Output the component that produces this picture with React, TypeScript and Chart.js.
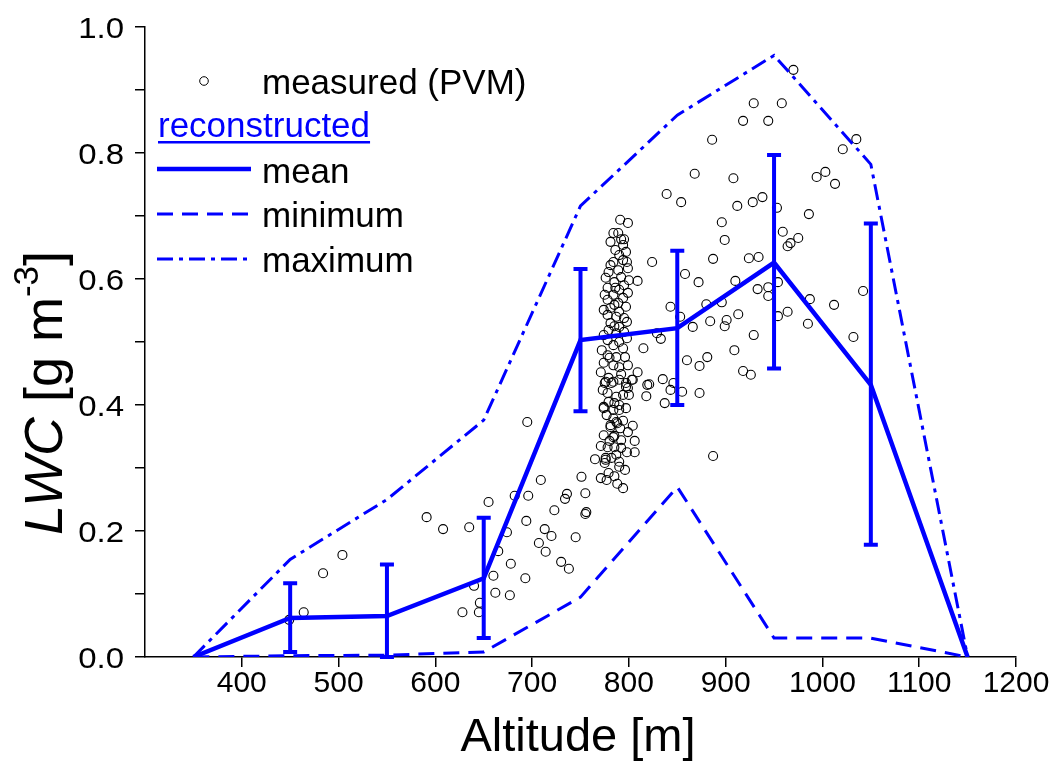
import React, { useEffect, useRef } from "react";
import { Chart, registerables } from "chart.js";

Chart.register(...registerables);

// Reconstructed profile (altitude in m, LWC in g m^-3)
const altitudes = [350, 450, 550, 650, 750, 850, 950, 1050, 1150];
const meanLWC = [0, 0.062, 0.065, 0.125, 0.503, 0.522, 0.626, 0.432, 0];
const minLWC = [0, 0.002, 0.003, 0.008, 0.095, 0.27, 0.03, 0.03, 0];
const maxLWC = [0, 0.155, 0.25, 0.376, 0.716, 0.86, 0.955, 0.782, 0];

// Error bars on the mean
const errAlt = [450, 550, 650, 750, 850, 950, 1050];
const errLow = [0.008, 0.0, 0.03, 0.39, 0.4, 0.458, 0.178];
const errHigh = [0.117, 0.147, 0.221, 0.616, 0.645, 0.797, 0.688];

// Measured (PVM) points
const measuredAlt = [
  791, 799, 784, 789, 792, 795, 781, 794, 786, 797, 790, 784, 794, 781, 789, 799, 779, 792, 785, 795,
  778, 790, 784, 794, 778, 789, 797, 781, 790, 778, 787, 795, 781, 790, 779, 787, 795, 778, 790, 784,
  778, 787, 796, 774, 784, 790, 776, 784, 790, 797, 778, 787, 794, 785, 774, 784, 790, 784, 794, 787,
  781, 774, 784, 792, 778, 785, 792, 787, 776, 790, 775, 790, 779, 777, 794,
  775, 782, 797, 803, 799, 774, 790, 781, 788, 785, 776, 765,
  798, 776, 800, 786, 799, 775, 785, 774, 798, 785, 774, 798, 794, 772, 780, 799, 771, 792, 779, 773,
  800, 779, 797, 777, 791, 799, 780, 771, 798, 782, 796, 785, 771, 788,
  824, 809, 843, 833, 829, 815, 809, 835, 821, 818, 837, 843, 846, 804, 806, 806, 860, 873, 881, 909,
  929, 855, 873, 918, 926, 887, 886, 868, 908, 839, 854, 912, 928, 938, 953, 896, 959, 964, 899, 887,
  924, 934, 858, 872, 910, 954, 933, 944, 944, 853, 880, 896, 884, 901, 899, 913, 866, 954, 964, 929,
  958, 918, 944, 1035, 1021, 994, 1003, 1013, 967, 975, 986, 987, 1012, 1042, 985, 1032, 970, 804, 819,
  591, 608, 635, 655, 504, 484, 464, 449, 682, 696, 694, 674, 665, 678, 660, 640, 693, 662, 677, 646,
  628, 645, 707, 695, 709, 751, 736, 734, 755, 723, 756, 755, 713, 720, 745, 714, 730, 738,
];
const measuredLWC = [
  0.694, 0.689, 0.673, 0.673, 0.663, 0.663, 0.659, 0.654, 0.646, 0.643, 0.638, 0.627, 0.63, 0.622, 0.614, 0.617, 0.611, 0.603, 0.595, 0.59,
  0.586, 0.583, 0.575, 0.57, 0.567, 0.562, 0.556, 0.554, 0.548, 0.543, 0.54, 0.538, 0.53, 0.524, 0.519, 0.514, 0.516, 0.503, 0.5, 0.495,
  0.479, 0.476, 0.476, 0.467, 0.463, 0.46, 0.437, 0.437, 0.44, 0.429, 0.419, 0.413, 0.416, 0.403, 0.395, 0.392, 0.392, 0.379, 0.375, 0.373,
  0.365, 0.352, 0.349, 0.344, 0.333, 0.333, 0.332, 0.321, 0.316, 0.31, 0.308, 0.302, 0.292, 0.281, 0.268,
  0.435, 0.435, 0.435, 0.44, 0.427, 0.397, 0.4, 0.368, 0.371, 0.351, 0.313, 0.314,
  0.627, 0.602, 0.598, 0.586, 0.578, 0.575, 0.559, 0.551, 0.532, 0.525, 0.511, 0.506, 0.49, 0.487, 0.475, 0.463, 0.452, 0.449, 0.443, 0.424,
  0.416, 0.405, 0.395, 0.384, 0.363, 0.357, 0.343, 0.335, 0.325, 0.316, 0.297, 0.287, 0.284, 0.275,
  0.627, 0.597, 0.556, 0.505, 0.514, 0.49, 0.452, 0.441, 0.433, 0.414, 0.403, 0.424, 0.435, 0.367, 0.343, 0.325, 0.471, 0.462, 0.476, 0.487,
  0.511, 0.421, 0.419, 0.454, 0.448, 0.319, 0.821, 0.767, 0.76, 0.735, 0.722, 0.716, 0.722, 0.73, 0.713, 0.69, 0.675, 0.652, 0.662, 0.632,
  0.633, 0.635, 0.608, 0.595, 0.597, 0.595, 0.584, 0.587, 0.573, 0.54, 0.56, 0.563, 0.533, 0.535, 0.525, 0.544, 0.524, 0.541, 0.548, 0.879,
  0.879, 0.851, 0.851, 0.822, 0.806, 0.762, 0.77, 0.751, 0.657, 0.665, 0.703, 0.568, 0.559, 0.581, 0.529, 0.508, 0.932, 0.44, 0.432,
  0.222, 0.203, 0.206, 0.246, 0.162, 0.133, 0.071, 0.059, 0.256, 0.256, 0.216, 0.198, 0.168, 0.148, 0.129, 0.113, 0.125, 0.102, 0.098, 0.086,
  0.071, 0.071, 0.181, 0.373, 0.281, 0.286, 0.259, 0.251, 0.26, 0.233, 0.23, 0.227, 0.203, 0.192, 0.19, 0.167, 0.151, 0.14,
];

// Axis ticks
const xTickValues = [400, 500, 600, 700, 800, 900, 1000, 1100, 1200];
const yTickValues = [0, 0.2, 0.4, 0.6, 0.8, 1.0];

const FONT = '"Liberation Sans", Arial, Helvetica, sans-serif';
const BLUE = "#0000FF";

const zip = (xs: number[], ys: number[]) => xs.map((x, i) => ({ x, y: ys[i] }));

const errorBarPlugin = {
  id: "errorBars",
  afterDatasetsDraw(chart: any) {
    const { ctx, scales } = chart;
    const xs = scales.x;
    const ys = scales.y;
    ctx.save();
    ctx.strokeStyle = BLUE;
    ctx.lineWidth = 4;
    ctx.lineCap = "butt";
    errAlt.forEach((a, i) => {
      const x = xs.getPixelForValue(a);
      const yl = ys.getPixelForValue(errLow[i]);
      const yh = ys.getPixelForValue(errHigh[i]);
      ctx.beginPath();
      ctx.moveTo(x, yl);
      ctx.lineTo(x, yh);
      ctx.moveTo(x - 7, yl);
      ctx.lineTo(x + 7, yl);
      ctx.moveTo(x - 7, yh);
      ctx.lineTo(x + 7, yh);
      ctx.stroke();
    });
    ctx.restore();
  },
};

const textPlugin = {
  id: "texts",
  afterDraw(chart: any) {
    const { ctx, scales } = chart;
    const xs = scales.x;
    const ys = scales.y;
    ctx.save();
    ctx.fillStyle = "#000";
    // x tick labels
    ctx.font = `30px ${FONT}`;
    ctx.textAlign = "center";
    ctx.textBaseline = "alphabetic";
    xTickValues.forEach((v) => {
      ctx.fillText(String(v), xs.getPixelForValue(v), 692);
    });
    // y tick labels
    ctx.textAlign = "right";
    yTickValues.forEach((v) => {
      const y = ys.getPixelForValue(v);
      ctx.save();
      ctx.translate(124, y + 11);
      ctx.scale(1.1, 1);
      ctx.fillText(v.toFixed(1), 0, 0);
      ctx.restore();
    });
    // x title
    ctx.font = `47px ${FONT}`;
    ctx.textAlign = "center";
    ctx.fillText("Altitude [m]", 578, 751);
    // y title
    ctx.save();
    ctx.translate(62, 393);
    ctx.rotate(-Math.PI / 2);
    ctx.textAlign = "left";
    const segs = [
      { t: "LWC", f: `italic 54px ${FONT}`, dy: 0 },
      { t: " [g m", f: `54px ${FONT}`, dy: 0 },
      { t: "-3", f: `35px ${FONT}`, dy: -24 },
      { t: "]", f: `54px ${FONT}`, dy: 0 },
    ];
    let total = 0;
    segs.forEach((s) => {
      ctx.font = s.f;
      total += ctx.measureText(s.t).width;
    });
    let cx = -total / 2;
    segs.forEach((s) => {
      ctx.font = s.f;
      ctx.fillText(s.t, cx, s.dy);
      cx += ctx.measureText(s.t).width;
    });
    ctx.restore();

    // legend
    ctx.font = `35px ${FONT}`;
    ctx.textAlign = "left";
    ctx.strokeStyle = "#000";
    ctx.lineWidth = 1;
    ctx.beginPath();
    ctx.arc(204, 81, 4.3, 0, Math.PI * 2);
    ctx.stroke();
    ctx.fillText("measured (PVM)", 262, 94);

    ctx.fillStyle = BLUE;
    ctx.fillText("reconstructed", 158, 137);
    const w = ctx.measureText("reconstructed").width;
    ctx.fillRect(158, 141, w, 2.5);

    ctx.strokeStyle = BLUE;
    ctx.lineWidth = 4.5;
    ctx.beginPath();
    ctx.moveTo(157, 169);
    ctx.lineTo(251, 169);
    ctx.stroke();

    ctx.lineWidth = 3;
    ctx.setLineDash([16, 9]);
    ctx.beginPath();
    ctx.moveTo(157, 214);
    ctx.lineTo(251, 214);
    ctx.stroke();

    ctx.setLineDash([16, 6, 4, 6]);
    ctx.beginPath();
    ctx.moveTo(157, 259);
    ctx.lineTo(251, 259);
    ctx.stroke();
    ctx.setLineDash([]);

    ctx.fillStyle = "#000";
    ctx.fillText("mean", 262, 183);
    ctx.fillText("minimum", 262, 227);
    ctx.fillText("maximum", 262, 272);
    ctx.restore();
  },
};

export default function App() {
  const canvasRef = useRef<HTMLCanvasElement | null>(null);

  useEffect(() => {
    const canvas = canvasRef.current;
    if (!canvas) return;
    const chart = new Chart(canvas, {
      type: "line",
      data: {
        datasets: [
          {
            label: "mean",
            data: zip(altitudes, meanLWC),
            borderColor: BLUE,
            borderWidth: 4.5,
            pointRadius: 0,
            tension: 0,
            fill: false,
            order: 1,
          },
          {
            label: "minimum",
            data: zip(altitudes, minLWC),
            borderColor: BLUE,
            borderWidth: 3,
            borderDash: [16, 9],
            pointRadius: 0,
            tension: 0,
            fill: false,
            order: 1,
          },
          {
            label: "maximum",
            data: zip(altitudes, maxLWC),
            borderColor: BLUE,
            borderWidth: 3,
            borderDash: [16, 6, 4, 6],
            pointRadius: 0,
            tension: 0,
            fill: false,
            order: 1,
          },
          {
            label: "measured (PVM)",
            data: zip(measuredAlt, measuredLWC),
            showLine: false,
            pointRadius: 4.5,
            pointBorderWidth: 1.1,
            pointBorderColor: "#000",
            pointBackgroundColor: "rgba(0,0,0,0)",
            order: 2,
          },
        ],
      },
      options: {
        responsive: false,
        animation: false,
        events: [],
        layout: { padding: { top: 27, right: 43, left: 0, bottom: 0 } },
        plugins: { legend: { display: false }, tooltip: { enabled: false } },
        scales: {
          x: {
            type: "linear",
            min: 300,
            max: 1200,
            ticks: { stepSize: 100, display: false },
            grid: {
              drawOnChartArea: false,
              drawTicks: true,
              tickLength: 10,
              color: (c: any) => (c.tick && c.tick.value === 300 ? "rgba(0,0,0,0)" : "#000"),
              lineWidth: 1.5,
            },
            border: { display: true, color: "#000", width: 1.5 },
            afterFit: (s: any) => {
              s.height = 106;
            },
          },
          y: {
            type: "linear",
            min: 0,
            max: 1,
            ticks: { stepSize: 0.1, display: false },
            grid: {
              drawOnChartArea: false,
              drawTicks: true,
              tickLength: 10,
              color: "#000",
              lineWidth: 1.5,
            },
            border: { display: true, color: "#000", width: 1.5 },
            afterFit: (s: any) => {
              s.width = 145;
            },
          },
        },
      },
      plugins: [errorBarPlugin, textPlugin],
    });
    return () => chart.destroy();
  }, []);

  return (
    <div style={{ position: "fixed", left: 0, top: 0, width: 1059, height: 763, background: "#fff" }}>
      <canvas ref={canvasRef} width={1059} height={763} style={{ display: "block" }} />
    </div>
  );
}
